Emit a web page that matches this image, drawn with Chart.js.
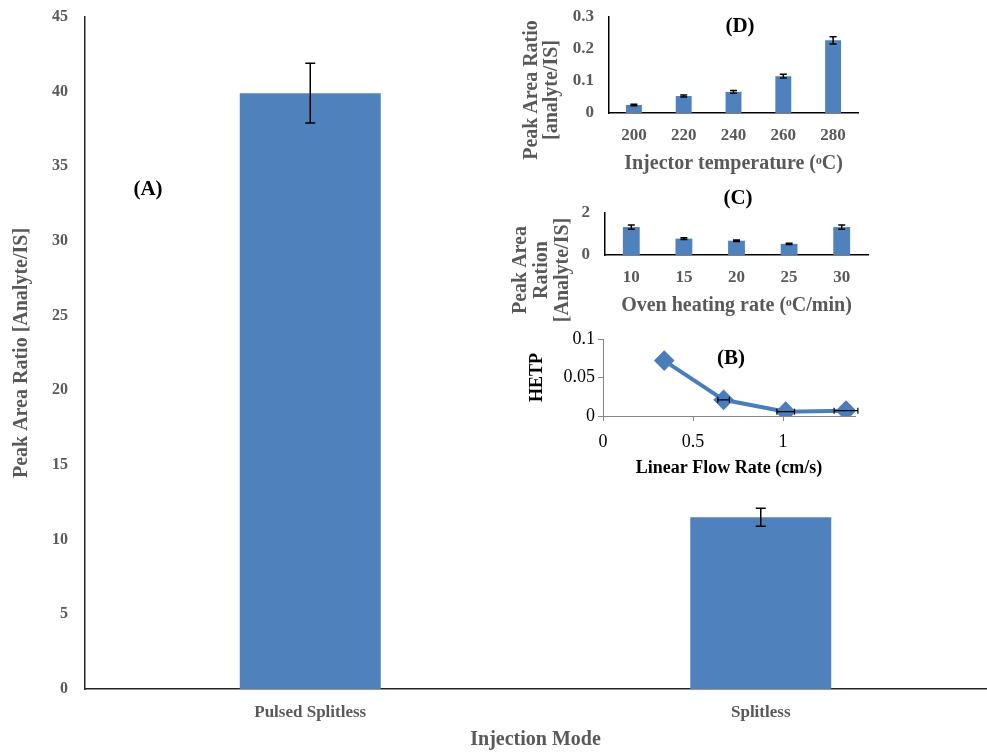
<!DOCTYPE html>
<html>
<head>
<meta charset="utf-8">
<script src="https://cdn.jsdelivr.net/npm/chart.js@4.4.1/dist/chart.umd.min.js"></script>
<style>
  body { margin: 0; background: #fff; }
  #wrap { position: relative; width: 987px; height: 752px; overflow: hidden; }
  canvas { position: absolute; }
  .tag {
    position: absolute;
    font: bold 21px "Liberation Serif", "Times New Roman", serif;
    color: #000;
    transform: translate(-50%, -50%);
    white-space: nowrap;
  }
  .vtitle {
    position: absolute;
    font: bold 20px "Liberation Serif", "Times New Roman", serif;
    color: #595959;
    text-align: center;
    white-space: nowrap;
    transform: translate(-50%, -50%) rotate(-90deg);
  }
</style>
</head>
<body>
<div id="wrap">
  <canvas id="mainChart" width="987" height="752" style="left:0;top:0"></canvas>
  <canvas id="tempChart" width="380" height="180" style="left:500px;top:0"></canvas>
  <canvas id="ovenChart" width="380" height="140" style="left:500px;top:180px"></canvas>
  <canvas id="flowChart" width="380" height="170" style="left:500px;top:320px"></canvas>

  <div class="tag" style="left:148px;top:188px">(A)</div>
  <div class="tag" style="left:740px;top:25px">(D)</div>
  <div class="tag" style="left:738px;top:197px">(C)</div>
  <div class="tag" style="left:731px;top:357px">(B)</div>

  <div class="vtitle" style="left:540px;top:90px;line-height:20px">Peak Area Ratio<br>[analyte/IS]</div>
  <div class="vtitle" style="left:540px;top:270px;line-height:21px">Peak Area<br>Ration<br>[Analyte/IS]</div>
</div>

<script>
// (A) injection mode
const MODES = ["Pulsed Splitless", "Splitless"];
const MODE_RATIO = [39.9, 11.5];
const MODE_ERR = [2.0, 0.6];

// (D) injector temperature
const INJ_TEMPS = ["200", "220", "240", "260", "280"];
const TEMP_RATIO = [0.025, 0.053, 0.066, 0.115, 0.227];
const TEMP_ERR = [0.002, 0.003, 0.004, 0.006, 0.011];

// (C) oven heating rate
const OVEN_RATES = ["10", "15", "20", "25", "30"];
const OVEN_RATIO = [1.33, 0.78, 0.68, 0.53, 1.33];
const OVEN_ERR = [0.1, 0.04, 0.04, 0.03, 0.1];

// (B) van Deemter
const FLOW_RATE = [0.34, 0.67, 1.015, 1.35];
const HETP = [0.072, 0.021, 0.0056, 0.0069];
const FLOW_ERR = [0, 0.032, 0.049, 0.066];

const BLUE = "#4F81BD";
const GREY_TXT = "#595959";
const SERIF = '"Liberation Serif", "Times New Roman", serif';

// draws the little I-beams from dataset.errors / dataset.xErrors
const errorBars = {
  id: "errorBars",
  afterDatasetsDraw(chart, args, opts) {
    const ctx = chart.ctx;
    const cap = opts.cap || 4;
    ctx.save();
    ctx.strokeStyle = opts.color || "#000";
    ctx.lineWidth = opts.width || 1.5;
    chart.data.datasets.forEach((ds, di) => {
      const meta = chart.getDatasetMeta(di);
      const xs = chart.scales.x, ys = chart.scales.y;
      meta.data.forEach((el, i) => {
        ctx.beginPath();
        if (ds.errors) {
          const v = ds.data[i], e = ds.errors[i];
          const t = ys.getPixelForValue(v + e), b = ys.getPixelForValue(v - e);
          ctx.moveTo(el.x, t); ctx.lineTo(el.x, b);
          ctx.moveTo(el.x - cap, t); ctx.lineTo(el.x + cap, t);
          ctx.moveTo(el.x - cap, b); ctx.lineTo(el.x + cap, b);
        }
        if (ds.xErrors && ds.xErrors[i] > 0) {
          const p = ds.data[i], e = ds.xErrors[i];
          const l = xs.getPixelForValue(p.x - e), r = xs.getPixelForValue(p.x + e);
          ctx.moveTo(l, el.y); ctx.lineTo(r, el.y);
          ctx.moveTo(l, el.y - cap); ctx.lineTo(l, el.y + cap);
          ctx.moveTo(r, el.y - cap); ctx.lineTo(r, el.y + cap);
        }
        ctx.stroke();
      });
    });
    ctx.restore();
  },
};

// fixed axis sizes so the plot boxes land where the original ones are
function fixWidth(w) {
  return (s) => { s.width = w; s.paddingTop = 0; s.paddingBottom = 0; };
}
function fixHeight(h) { return (s) => { s.height = h; }; }
const plainNum = (v) => String(Number(Number(v).toFixed(3)));

// ---------- main chart (A) ----------
new Chart(document.getElementById("mainChart"), {
  type: "bar",
  data: {
    labels: MODES,
    datasets: [{
      data: MODE_RATIO,
      errors: MODE_ERR,
      backgroundColor: BLUE,
      barPercentage: 0.313,
      categoryPercentage: 1,
    }],
  },
  plugins: [errorBars],
  options: {
    responsive: false,
    animation: false,
    layout: { padding: { top: 17, right: 1, left: 0, bottom: 0 } },
    plugins: {
      legend: { display: false },
      tooltip: { enabled: false },
      errorBars: { cap: 5, width: 1.5 },
    },
    scales: {
      x: {
        grid: { display: false, drawTicks: false },
        border: { display: true, color: "#262626", width: 1.5 },
        ticks: { color: GREY_TXT, font: { family: SERIF, size: 17, weight: "bold" }, padding: 13 },
        title: {
          display: true, text: "Injection Mode", color: GREY_TXT,
          font: { family: SERIF, size: 20, weight: "bold" }, padding: { top: 0, bottom: 0 },
        },
        afterFit: fixHeight(63),
      },
      y: {
        min: 0, max: 45,
        grid: { display: false, drawTicks: false },
        border: { display: true, color: "#262626", width: 1.5 },
        ticks: { stepSize: 5, color: GREY_TXT, font: { family: SERIF, size: 16, weight: "bold" }, padding: 17 },
        title: {
          display: true, text: "Peak Area Ratio [Analyte/IS]", color: GREY_TXT,
          font: { family: SERIF, size: 20, weight: "bold" }, padding: { top: 10, bottom: 0 },
        },
        afterFit: fixWidth(85),
      },
    },
  },
});

// ---------- inset bar charts (D) and (C) ----------
function insetBar(id, labels, values, errs, yMax, yStep, xTitle, yWidth, xHeight, pad, titlePad) {
  return new Chart(document.getElementById(id), {
    type: "bar",
    data: {
      labels: labels,
      datasets: [{
        data: values,
        errors: errs,
        backgroundColor: BLUE,
        barPercentage: 0.32,
        categoryPercentage: 1,
      }],
    },
    plugins: [errorBars],
    options: {
      responsive: false,
      animation: false,
      layout: { padding: pad },
      plugins: {
        legend: { display: false },
        tooltip: { enabled: false },
        errorBars: { cap: 3.5, width: 1.5 },
      },
      scales: {
        x: {
          grid: { display: false, drawTicks: false },
          border: { display: true, color: "#000", width: 1.5 },
          ticks: { color: GREY_TXT, font: { family: SERIF, size: 17, weight: "bold" }, padding: 12 },
          title: {
            display: true, text: xTitle, color: GREY_TXT,
            font: { family: SERIF, size: 20, weight: "bold" }, padding: { top: 0, bottom: titlePad },
          },
          afterFit: fixHeight(xHeight),
        },
        y: {
          min: 0, max: yMax,
          grid: { display: false, drawTicks: false },
          border: { display: true, color: "#000", width: 1.5 },
          ticks: { stepSize: yStep, color: GREY_TXT, font: { family: SERIF, size: 17, weight: "bold" }, padding: 15 },
          afterFit: fixWidth(yWidth),
        },
      },
    },
  });
}

insetBar("tempChart", INJ_TEMPS, TEMP_RATIO, TEMP_ERR, 0.3, 0.1,
  "Injector temperature (ᵒC)", 109, 67, { top: 17, right: 22, left: 0, bottom: 0 }, 4);
insetBar("ovenChart", OVEN_RATES, OVEN_RATIO, OVEN_ERR, 2, 2,
  "Oven heating rate (ᵒC/min)", 105, 65, { top: 33, right: 12, left: 0, bottom: 0 }, 2);

// ---------- inset line chart (B) ----------
new Chart(document.getElementById("flowChart"), {
  type: "line",
  data: {
    datasets: [{
      data: FLOW_RATE.map((x, i) => ({ x: x, y: HETP[i] })),
      xErrors: FLOW_ERR,
      borderColor: "#4A7EBB",
      backgroundColor: "#4A7EBB",
      borderWidth: 4,
      pointStyle: "rectRot",
      pointRadius: 7.5,
      tension: 0,
    }],
  },
  plugins: [errorBars],
  options: {
    responsive: false,
    animation: false,
    layout: { padding: { top: 19, right: 25, left: 0, bottom: 0 } },
    plugins: {
      legend: { display: false },
      tooltip: { enabled: false },
      errorBars: { cap: 3, width: 1.2 },
    },
    scales: {
      x: {
        type: "linear", min: 0, max: 1.4,
        afterBuildTicks: (s) => { s.ticks = s.ticks.filter((t) => Math.abs(t.value * 2 - Math.round(t.value * 2)) < 1e-6); },
        grid: { display: true, drawOnChartArea: false, drawTicks: true, tickLength: 5, color: "#868686" },
        border: { display: true, color: "#868686", width: 1 },
        ticks: { stepSize: 0.5, color: "#000", font: { family: SERIF, size: 18 }, padding: 10, callback: plainNum },
        title: {
          display: true, text: "Linear Flow Rate (cm/s)", color: "#000",
          font: { family: SERIF, size: 18, weight: "bold" }, padding: { top: 0, bottom: 11 },
        },
        afterFit: fixHeight(74),
      },
      y: {
        min: 0, max: 0.1,
        grid: { display: true, drawOnChartArea: false, drawTicks: true, tickLength: 5, color: "#868686" },
        border: { display: true, color: "#868686", width: 1 },
        ticks: { stepSize: 0.05, color: "#000", font: { family: SERIF, size: 18 }, padding: 3, callback: plainNum },
        title: {
          display: true, text: "HETP", color: "#000",
          font: { family: SERIF, size: 18, weight: "bold" }, padding: { top: 27, bottom: 0 },
        },
        afterFit: fixWidth(103),
      },
    },
  },
});
</script>
</body>
</html>
